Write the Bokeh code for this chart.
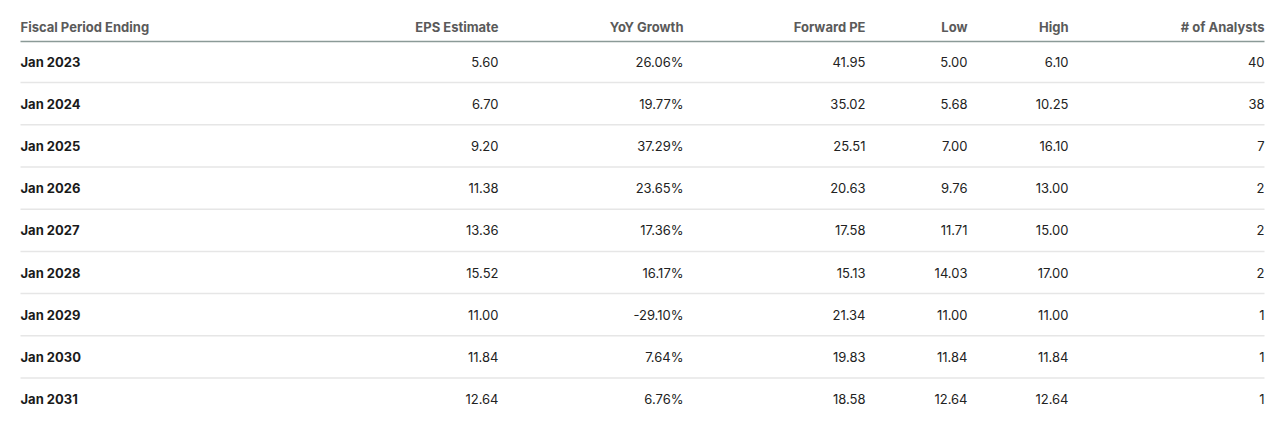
from bokeh.plotting import figure
from bokeh.models import Range1d
from bokeh.core.properties import value
from bokeh.embed import file_html
from bokeh.resources import INLINE

# ---- data ----
periods = ["Jan 2023", "Jan 2024", "Jan 2025", "Jan 2026", "Jan 2027",
           "Jan 2028", "Jan 2029", "Jan 2030", "Jan 2031"]
eps_estimate = [5.60, 6.70, 9.20, 11.38, 13.36, 15.52, 11.00, 11.84, 12.64]
yoy_growth = [26.06, 19.77, 37.29, 23.65, 17.36, 16.17, -29.10, 7.64, 6.76]
forward_pe = [41.95, 35.02, 25.51, 20.63, 17.58, 15.13, 21.34, 19.83, 18.58]
low = [5.00, 5.68, 7.00, 9.76, 11.71, 14.03, 11.00, 11.84, 12.64]
high = [6.10, 10.25, 16.10, 13.00, 15.00, 17.00, 11.00, 11.84, 12.64]
analysts = [40, 38, 7, 2, 2, 2, 1, 1, 1]
headers = ["Fiscal Period Ending", "EPS Estimate", "YoY Growth", "Forward PE",
           "Low", "High", "# of Analysts"]

# ---- layout (figure pixel coordinates; figure origin at page 0,0) ----
W, H = 1272, 425
left_x = 20
right_edges = [498, 683, 865, 967, 1068, 1264]
table_right = 1264
row_step = 42.2
first_row_y = 61
top = (0 - first_row_y) / row_step
bottom = (H - first_row_y) / row_step
header_y = (26 - first_row_y) / row_step
header_line_y = (41 - first_row_y) / row_step

FONT = value("Inter")

p = figure(width=W, height=H, output_backend="svg", toolbar_location=None,
           x_range=Range1d(0, W), y_range=Range1d(bottom, top),
           min_border=0, min_border_left=0, min_border_right=0,
           min_border_top=0, min_border_bottom=0)
p.axis.visible = False
p.grid.visible = False
p.outline_line_color = None
p.background_fill_color = "white"
p.border_fill_color = "white"

n = len(periods)
rows = list(range(n))

# separators between rows
sep_y = [i + 0.5 for i in range(n - 1)]
p.segment(x0=[left_x] * len(sep_y), x1=[table_right] * len(sep_y), y0=sep_y, y1=sep_y,
          line_color="#e6e6e6", line_width=1.5)
# header line
p.segment(x0=[left_x], x1=[table_right], y0=[header_line_y], y1=[header_line_y],
          line_color="#8b9a97", line_width=1.5)

# headers
hx = [left_x] + right_edges
halign = ["left"] + ["right"] * 6
p.text(x=hx, y=[header_y] * len(headers), text=headers, text_align=halign,
       text_baseline="middle", text_font=FONT, text_font_size="13px",
       text_font_style="bold", text_color="#5a5a5a")

# first column
p.text(x=[left_x] * n, y=rows, text=periods, text_align="left", text_baseline="middle",
       text_font=FONT, text_font_size="13px", text_font_style="bold", text_color="#1a1a1a")

cols = [
    [f"{v:.2f}" for v in eps_estimate],
    [f"{v:.2f}%" for v in yoy_growth],
    [f"{v:.2f}" for v in forward_pe],
    [f"{v:.2f}" for v in low],
    [f"{v:.2f}" for v in high],
    [str(v) for v in analysts],
]
for xr, col in zip(right_edges, cols):
    p.text(x=[xr] * n, y=rows, text=col, text_align="right", text_baseline="middle",
           text_font=FONT, text_font_size="13px", text_color="#222222")

open("out.html", "w").write(file_html(p, INLINE))
